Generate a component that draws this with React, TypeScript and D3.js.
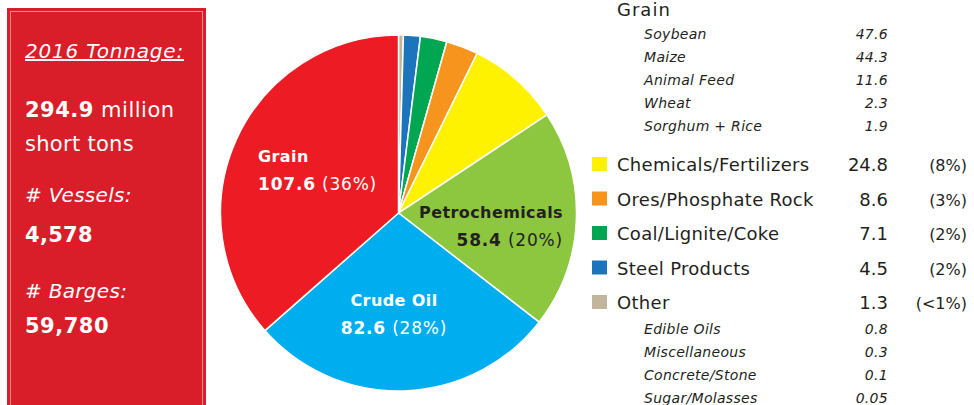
import React from "react";
import * as d3 from "d3";

const sliceNames = ["Other", "Steel Products", "Coal/Lignite/Coke", "Ores/Phosphate Rock", "Chemicals/Fertilizers", "Petrochemicals", "Crude Oil", "Grain"];
const sliceValues = [1.3, 4.5, 7.1, 8.6, 24.8, 58.4, 82.6, 107.6];
const sliceColors = ["#c2b59b", "#1c75bc", "#00a651", "#f7941d", "#fff200", "#8dc63f", "#00aeef", "#ed1c24"];

const grainSubNames = ["Soybean", "Maize", "Animal Feed", "Wheat", "Sorghum + Rice"];
const grainSubValues = ["47.6", "44.3", "11.6", "2.3", "1.9"];
const legendNames = ["Chemicals/Fertilizers", "Ores/Phosphate Rock", "Coal/Lignite/Coke", "Steel Products", "Other"];
const legendValues = ["24.8", "8.6", "7.1", "4.5", "1.3"];
const legendPcts = ["(8%)", "(3%)", "(2%)", "(2%)", "(<1%)"];
const legendColors = ["#fff200", "#f7941d", "#00a651", "#1c75bc", "#c2b59b"];
const otherSubNames = ["Edible Oils", "Miscellaneous", "Concrete/Stone", "Sugar/Molasses"];
const otherSubValues = ["0.8", "0.3", "0.1", "0.05"];

const FONT = "'DejaVu Sans', sans-serif";

export default function App() {
  const cx = 398.5, cy = 213, r = 178;
  const pie = d3.pie<number>().sort(null).value((d) => d)(sliceValues);
  const arc = d3.arc<d3.PieArcDatum<number>>().innerRadius(0).outerRadius(r);
  const total = d3.sum(sliceValues);
  const pct = (v: number) => `(${Math.round((v / total) * 100)}%)`;

  const bigLabels = [
    { i: 7, x: 258, y: 162, fill: "#fff", anchor: "start" },
    { i: 5, x: 563, y: 218, fill: "#231f20", anchor: "end" },
    { i: 6, x: 394, y: 306, fill: "#fff", anchor: "middle" },
  ];

  return (
    <svg width={974} height={405} style={{ position: "absolute", left: 0, top: 0, fontFamily: FONT }}>
      <rect x={0} y={0} width={974} height={405} fill="#fff" />
      {/* left panel */}
      <rect x={7} y={8} width={199} height={400} fill="#d91e29" />
      <rect x={10.5} y={11.5} width={192} height={400} fill="none" stroke="#f08a8f" strokeWidth={1} />
      <g fill="#fff">
        <text x={25} y={58} fontSize={20} fontStyle="italic" textDecoration="underline" letterSpacing={0.8}>2016 Tonnage:</text>
        <text x={25} y={117} fontSize={21} letterSpacing={0.5}><tspan fontWeight="bold">294.9</tspan> million</text>
        <text x={25} y={151} fontSize={21} letterSpacing={0.3}>short tons</text>
        <text x={25} y={202} fontSize={20} fontStyle="italic" letterSpacing={0.3}># Vessels:</text>
        <text x={25} y={242} fontSize={21} fontWeight="bold" letterSpacing={0.3}>4,578</text>
        <text x={25} y={298} fontSize={20} fontStyle="italic" letterSpacing={0.3}># Barges:</text>
        <text x={25} y={333} fontSize={21} fontWeight="bold" letterSpacing={0.5}>59,780</text>
      </g>
      {/* pie */}
      <g transform={`translate(${cx},${cy})`}>
        {pie.map((p, i) => (
          <path key={i} d={arc(p) || ""} fill={sliceColors[i]} stroke="#fff" strokeWidth={1.5} />
        ))}
      </g>
      {bigLabels.map((b) => (
        <g key={b.i} fill={b.fill} textAnchor={b.anchor}>
          <text x={b.x} y={b.y} fontWeight="bold" fontSize={16} letterSpacing={0.4}>{sliceNames[b.i]}</text>
          <text x={b.x} y={b.y + 28} fontSize={17} letterSpacing={0.8}>
            <tspan fontWeight="bold">{sliceValues[b.i].toFixed(1)}</tspan> {pct(sliceValues[b.i])}
          </text>
        </g>
      ))}
      {/* legend */}
      <g fill="#231f20">
        <text x={617} y={16} fontSize={18} letterSpacing={1}>Grain</text>
        {grainSubNames.map((n, i) => (
          <g key={n} fontSize={14} fontStyle="italic" letterSpacing={0.3}>
            <text x={644} y={39 + i * 23}>{n}</text>
            <text x={888} y={39 + i * 23} textAnchor="end">{grainSubValues[i]}</text>
          </g>
        ))}
        {legendNames.map((n, i) => (
          <g key={n} fontSize={18}>
            <rect x={592} y={157 + i * 34.5} width={15} height={14} fill={legendColors[i]} />
            <text x={617} y={171 + i * 34.5} letterSpacing={0.3}>{n}</text>
            <text x={888} y={171 + i * 34.5} textAnchor="end">{legendValues[i]}</text>
            <text x={967} y={171 + i * 34.5} textAnchor="end" fontSize={16}>{legendPcts[i]}</text>
          </g>
        ))}
        {otherSubNames.map((n, i) => (
          <g key={n} fontSize={14} fontStyle="italic" letterSpacing={0.3}>
            <text x={644} y={334 + i * 23} >{n}</text>
            <text x={888} y={334 + i * 23} textAnchor="end">{otherSubValues[i]}</text>
          </g>
        ))}
      </g>
    </svg>
  );
}
